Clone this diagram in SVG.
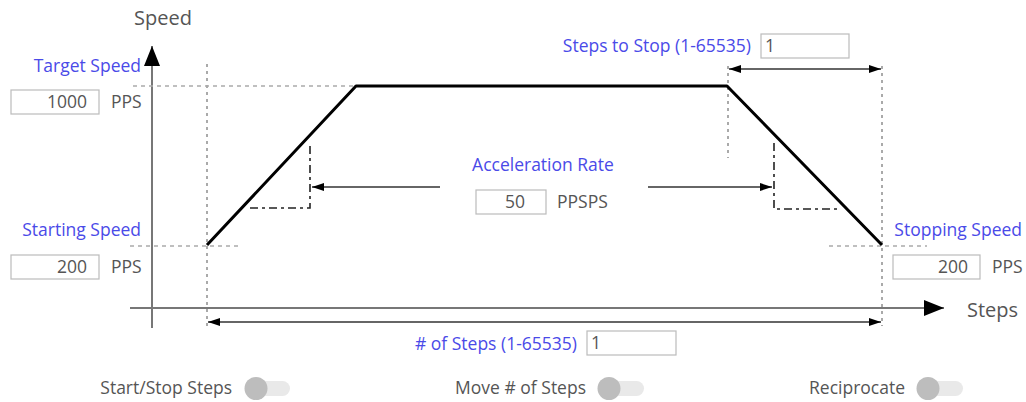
<svg xmlns="http://www.w3.org/2000/svg" width="1026" height="402" viewBox="0 0 1026 402">
<defs>
<marker id="bigArrow" viewBox="0 0 20 16" refX="20" refY="8" markerWidth="20" markerHeight="16" markerUnits="userSpaceOnUse" orient="auto"><path d="M0,0 L20,8 L0,16 Z" fill="#000"/></marker>
<marker id="smallArrow" viewBox="0 0 12 8" refX="12" refY="4" markerWidth="12" markerHeight="8" markerUnits="userSpaceOnUse" orient="auto-start-reverse"><path d="M0,0 L12,4 L0,8 Z" fill="#000"/></marker>
</defs>
<style>
text{font-family:"Open Sans","Liberation Sans",sans-serif;font-size:17.5px;fill:#555}
.blue{fill:#4a4ae8}
.big{font-size:20px}
.axis{stroke:#777;stroke-width:2;fill:none}
.guide{stroke:#aaa;stroke-width:1.5;stroke-dasharray:4 4;fill:none}
.vguide{stroke:#aaa;stroke-width:2;stroke-dasharray:3 4;fill:none}
.profile{stroke:#000;stroke-width:3;fill:none;stroke-linejoin:round}
.dashdot{stroke:#222;stroke-width:1.6;stroke-dasharray:8 4 3 4;fill:none}
.dim{stroke:#333;stroke-width:1.6;fill:none}
.box{fill:#fff;stroke:#bbb;stroke-width:1.2}
.track{fill:#e9e9e9}
.knob{fill:#bdbdbd}
</style>
<g id="connectors">
<line class="axis" x1="152" y1="328" x2="152" y2="46" marker-end="url(#bigArrow)"/>
<line class="axis" x1="130" y1="308" x2="944" y2="308" marker-end="url(#bigArrow)"/>
<line class="guide" x1="133" y1="86" x2="355" y2="86"/>
<line class="guide" x1="130" y1="246" x2="238" y2="246"/>
<line class="guide" x1="829" y1="246" x2="927" y2="246"/>
<line class="vguide" x1="207" y1="64" x2="207" y2="330"/>
<line class="vguide" x1="882" y1="66" x2="882" y2="326"/>
<line class="vguide" x1="728" y1="66" x2="728" y2="158"/>
<polyline class="profile" points="207,245 356,86 727,86 882,245"/>
<polyline class="dashdot" points="250,208 310,208 310,143"/>
<polyline class="dashdot" points="774,143 774,209 840,209"/>
<line class="dim" x1="440" y1="187" x2="312" y2="187" marker-end="url(#smallArrow)"/>
<line class="dim" x1="648" y1="187" x2="772" y2="187" marker-end="url(#smallArrow)"/>
<line class="dim" x1="208" y1="322" x2="881" y2="322" marker-start="url(#smallArrow)" marker-end="url(#smallArrow)"/>
<line class="dim" x1="729" y1="69" x2="881" y2="69" marker-start="url(#smallArrow)" marker-end="url(#smallArrow)"/>
</g>
<g id="axis-labels">
<text class="big" x="134" y="25">Speed</text>
<text class="big" x="967" y="317">Steps</text>
</g>
<g id="target-speed">
<text class="blue" x="141" y="72" text-anchor="end">Target Speed</text>
<rect class="box" x="11" y="90" width="88" height="24"/>
<text x="87" y="108" text-anchor="end">1000</text>
<text x="111" y="108">PPS</text>
</g>
<g id="starting-speed">
<text class="blue" x="141" y="236" text-anchor="end">Starting Speed</text>
<rect class="box" x="11" y="255" width="88" height="24"/>
<text x="87" y="273" text-anchor="end">200</text>
<text x="111" y="273">PPS</text>
</g>
<g id="stopping-speed">
<text class="blue" x="1022" y="236" text-anchor="end">Stopping Speed</text>
<rect class="box" x="893" y="255" width="87" height="24"/>
<text x="968" y="273" text-anchor="end">200</text>
<text x="992" y="273">PPS</text>
</g>
<g id="acceleration-rate">
<text class="blue" x="543" y="171" text-anchor="middle">Acceleration Rate</text>
<rect class="box" x="476" y="190" width="70" height="24"/>
<text x="525" y="208" text-anchor="end">50</text>
<text x="557" y="208">PPSPS</text>
</g>
<g id="steps-to-stop">
<text class="blue" x="751" y="52" text-anchor="end">Steps to Stop (1-65535)</text>
<rect class="box" x="761" y="34" width="88" height="24"/>
<text x="765" y="52">1</text>
</g>
<g id="num-steps">
<text class="blue" x="577" y="350" text-anchor="end"># of Steps (1-65535)</text>
<rect class="box" x="587" y="331" width="89" height="24"/>
<text x="591" y="349">1</text>
</g>
<g id="toggle-start-stop">
<text x="232" y="394" text-anchor="end">Start/Stop Steps</text>
<rect class="track" x="246" y="381" width="44" height="15" rx="7.5"/>
<circle class="knob" cx="256" cy="388.5" r="11.5"/>
</g>
<g id="toggle-move">
<text x="586" y="394" text-anchor="end">Move # of Steps</text>
<rect class="track" x="600" y="381" width="44" height="15" rx="7.5"/>
<circle class="knob" cx="609" cy="388.5" r="11.5"/>
</g>
<g id="toggle-reciprocate">
<text x="905" y="394" text-anchor="end">Reciprocate</text>
<rect class="track" x="919" y="381" width="44" height="15" rx="7.5"/>
<circle class="knob" cx="928" cy="388.5" r="11.5"/>
</g>
</svg>
